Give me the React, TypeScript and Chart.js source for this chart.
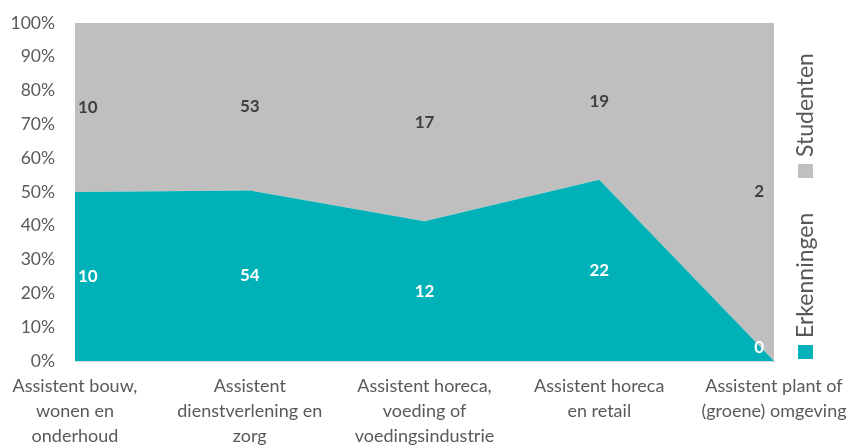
import React, { useEffect, useRef } from "react";
import { Chart, registerables } from "chart.js";

Chart.register(...registerables);

const categories: string[][] = [
  ["Assistent bouw,", "wonen en", "onderhoud"],
  ["Assistent", "dienstverlening en", "zorg"],
  ["Assistent horeca,", "voeding of", "voedingsindustrie"],
  ["Assistent horeca", "en retail"],
  ["Assistent plant of", "(groene) omgeving"],
];
const erkenningen = [10, 54, 12, 22, 0];
const studenten = [10, 53, 17, 19, 2];
const yTicks = [0, 10, 20, 30, 40, 50, 60, 70, 80, 90, 100];

const TEAL = "#00B1B8";
const GREY = "#BFBFBF";
const FONT = "Lato, 'Open Sans', sans-serif";

const totals = erkenningen.map((v, i) => v + studenten[i]);
const pctErk = erkenningen.map((v, i) => (totals[i] ? (v / totals[i]) * 100 : 0));
const pctStu = studenten.map((v, i) => (totals[i] ? (v / totals[i]) * 100 : 0));

const labelPlugin = {
  id: "areaLabels",
  afterDatasetsDraw(chart: any) {
    const { ctx, scales, chartArea } = chart;
    const x = scales.x;
    const y = scales.y;
    ctx.save();
    ctx.font = `bold 17px ${FONT}`;
    ctx.textBaseline = "middle";
    for (let i = 0; i < categories.length; i++) {
      const px = x.getPixelForValue(i);
      const series = [
        { val: erkenningen[i], lo: 0, hi: pctErk[i], color: "#FFFFFF" },
        { val: studenten[i], lo: pctErk[i], hi: pctErk[i] + pctStu[i], color: "#404040" },
      ];
      for (const s of series) {
        let py = (y.getPixelForValue(s.lo) + y.getPixelForValue(s.hi)) / 2;
        py = Math.min(py, chartArea.bottom - 13);
        let tx = px;
        let align: CanvasTextAlign = "center";
        if (i === 0) {
          tx = px + 3;
          align = "left";
        } else if (i === categories.length - 1) {
          tx = px - 10;
          align = "right";
        }
        ctx.textAlign = align;
        ctx.fillStyle = s.color;
        ctx.fillText(String(s.val), tx, py);
      }
    }
    ctx.restore();
  },
};

const legendPlugin = {
  id: "verticalLegend",
  afterDraw(chart: any) {
    const { ctx } = chart;
    const items = [
      { text: "Erkenningen", color: TEAL, sqBottom: 359 },
      { text: "Studenten", color: GREY, sqBottom: 178 },
    ];
    ctx.save();
    for (const it of items) {
      ctx.fillStyle = it.color;
      ctx.fillRect(798, it.sqBottom - 14, 15, 14);
      ctx.save();
      ctx.translate(806, it.sqBottom - 21);
      ctx.rotate(-Math.PI / 2);
      ctx.font = `23px ${FONT}`;
      ctx.fillStyle = "#595959";
      ctx.textAlign = "left";
      ctx.textBaseline = "middle";
      ctx.fillText(it.text, 0, 0);
      ctx.restore();
    }
    ctx.restore();
  },
};

export default function App() {
  const ref = useRef<HTMLCanvasElement | null>(null);
  useEffect(() => {
    document.body.style.margin = "0";
    if (!ref.current) return;
    const chart = new Chart(ref.current, {
      type: "line",
      data: {
        labels: categories,
        datasets: [
          {
            label: "Erkenningen",
            data: pctErk,
            backgroundColor: TEAL,
            borderColor: TEAL,
            borderWidth: 0,
            pointRadius: 0,
            fill: "origin",
            tension: 0,
          },
          {
            label: "Studenten",
            data: pctStu,
            backgroundColor: GREY,
            borderColor: GREY,
            borderWidth: 0,
            pointRadius: 0,
            fill: "-1",
            tension: 0,
          },
        ],
      },
      options: {
        animation: false,
        responsive: false,
        layout: { padding: { top: 23, right: 81, bottom: 0, left: 0 } },
        plugins: {
          legend: { display: false },
          tooltip: { enabled: false },
        },
        scales: {
          x: {
            offset: false,
            grid: { display: false, drawTicks: false },
            border: { display: true, color: "#D9D9D9", width: 1 },
            ticks: {
              color: "#595959",
              font: { family: FONT, size: 18, lineHeight: 1.39 },
              padding: 13,
              maxRotation: 0,
              autoSkip: false,
            },
            afterFit(scale: any) {
              scale.height = 84;
              scale.paddingLeft = 0;
              scale.paddingRight = 0;
            },
          },
          y: {
            stacked: true,
            min: 0,
            max: 100,
            afterBuildTicks(scale: any) {
              scale.ticks = yTicks.map((v) => ({ value: v }));
            },
            grid: { display: false, drawTicks: false },
            border: { display: false },
            ticks: {
              color: "#595959",
              font: { family: FONT, size: 17.5 },
              padding: 20,
              callback: (v: any) => `${v}%`,
            },
            afterFit(scale: any) {
              scale.width = 75;
              scale.paddingTop = 0;
              scale.paddingBottom = 0;
            },
          },
        },
      },
      plugins: [labelPlugin, legendPlugin],
    });
    return () => chart.destroy();
  }, []);
  return (
    <div style={{ width: 855, height: 445 }}>
      <canvas ref={ref} width={855} height={445} style={{ display: "block" }} />
    </div>
  );
}
